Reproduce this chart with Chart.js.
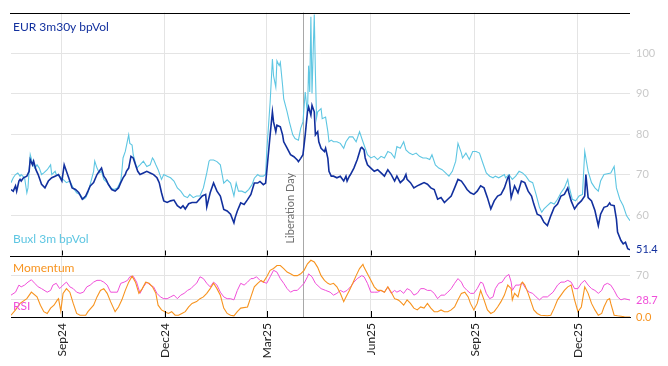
<!DOCTYPE html>
<html>
<head>
<meta charset="utf-8">
<script src="https://cdn.jsdelivr.net/npm/chart.js@4.4.1/dist/chart.umd.min.js"></script>
<style>
  html, body { margin: 0; padding: 0; background: #fff; }
  #wrap { width: 668px; height: 366px; }
</style>
</head>
<body>
<div id="wrap"><canvas id="chart" width="668" height="366"></canvas></div>
<script>
// x values are calendar days counted from 2024-07-18
const endDay = 547;
const monthDays = [45, 136, 226, 318, 410, 501];
const monthLabels = ['Sep24', 'Dec24', 'Mar25', 'Jun25', 'Sep25', 'Dec25'];
const liberationDay = 258; // 2025-04-02

// EUR 3m30y bpVol
const eurDay = [0,2,4,5,7,8,9,11,14,16, 17,19,20,22,24,27,30,33,36,39, 42,45,47,51,54,57,60,63,66,68,
  70,73,76,78,80,82,84,86,89,92, 95,97,99,101,102,104,106,108,110,112, 114,117,120,123,126,129,131,133,135,138,
  141,144,147,150,152,154,157,160,164,169, 172,173,176,179,182,185,188,191,194,197, 198,200,203,206,209,212,215,218,220,223,
  225,226,229,231,232,234,235,238,240,241, 244,247,250,253,254,256,258,260,262,263, 265,266,268,269,271,272,274,277,278,280,
  281,283,285,288,291,294,296,297,299,300, 303,306,309,310,312,313,315,318,321,324, 327,330,333,336,339,341,344,347,349,350,
  353,356,359,362,365,368,371,374,377,380, 383,386,389,392,395,398,401,403,406,409, 412,415,418,421,424,427,430,433,436,439,
  440,442,445,448,451,454,457,460,462,465, 468,471,474,477,480,483,486,489,492,493, 495,498,501,504,507,508,510,513,516,519,
  521,524,527,529,530,533,535,536,539,541, 543,545,547];
const eurVol = [66.3,65.9,67.2,65.9,68.4,68.8,68.4,69.2,69.6,70.8, 73.7,72.4,73.3,71.2,70.0,67.6,66.7,68.4,69.2,69.6, 70.0,68.4,72.4,69.2,66.7,66.3,65.5,63.9,64.7,65.9,
  67.2,68.0,70.0,70.8,71.6,69.6,68.8,67.6,66.3,65.9, 66.7,68.0,69.2,70.0,70.8,71.6,74.5,74.1,72.4,70.8, 70.0,70.4,70.8,70.4,70.0,69.2,68.0,65.5,63.5,63.1,
  63.5,63.7,62.3,61.7,62.3,61.5,62.8,63.1,63.1,64.7, 65.1,62.0,65.5,67.9,65.9,64.7,61.4,61.0,60.2,58.1, 59.3,61.0,63.0,62.6,63.8,65.1,67.9,67.9,68.3,67.5,
  67.9,70.8,79.8,85.5,83.0,80.6,82.2,81.8,79.8,78.1, 76.5,74.9,74.4,73.6,73.2,74.0,74.9,79.8,85.5,86.7, 84.7,87.1,85.5,79.8,80.6,78.1,76.5,75.7,76.5,74.0,
  70.8,69.6,69.6,69.2,69.6,68.4,69.6,68.4,69.6,70.0, 71.6,73.7,76.5,76.7,76.1,74.1,72.4,71.6,70.8,71.2, 70.4,69.6,71.2,70.0,68.4,69.6,68.0,68.8,70.0,68.8,
  68.0,66.7,67.2,67.6,68.0,67.6,66.7,66.3,63.9,64.3, 63.1,63.9,64.7,66.7,68.8,68.4,67.2,66.3,65.5,65.1, 65.9,67.2,66.7,64.3,61.5,63.5,64.7,65.1,66.7,69.2,
  69.6,64.3,67.2,65.5,68.4,68.0,65.9,64.7,62.7,60.2, 59.8,58.2,57.4,59.8,61.9,62.7,64.7,65.1,66.7,65.5, 63.5,61.5,62.7,63.5,64.7,70.0,64.3,63.5,61.1,57.4,
  60.2,61.9,62.2,63.0,62.5,62.3,59.0,55.8,53.7,52.9, 53.3,51.7,51.4];

// Buxl 3m bpVol
const buxlDay = [0,2,4,6,8,9,12,14,15,17, 19,21,23,25,27,29,32,35,36,39, 40,43,46,49,52,55,58,61,64,66,
  68,73,74,76,78,80,82,85,88,91, 94,97,98,99,101,104,105,107,108,110, 111,114,117,120,123,125,126,128,130,133,
  135,138,141,144,147,150,153,156,158,161, 164,167,170,173,175,176,179,182,185,188, 191,194,197,199,201,204,207,210,213,215,
  218,220,223,225,226,229,231,232,234,235, 237,238,240,241,244,246,249,251,254,256, 258,260,262,263,264,265,266,267,268,269,
  270,271,274,275,278,280,281,283,285,288, 291,294,296,299,302,305,308,310,312,315, 318,321,324,327,330,333,336,339,341,344,
  347,349,352,355,358,361,364,367,370,372, 375,378,381,384,387,390,393,395,398,399, 402,405,408,411,414,417,420,423,426,428,
  431,436,437,440,443,446,449,452,455,458, 461,464,467,469,471,474,477,480,483,486, 489,492,493,496,499,502,505,507,510,513,
  516,519,521,524,527,530,533,535,538,541, 544,547];
const buxlVol = [68.0,69.2,70.0,70.4,69.6,70.0,69.2,65.5,66.7,74.9, 72.8,71.6,72.4,71.6,70.0,70.4,71.2,72.4,70.0,70.8, 70.0,69.6,68.8,68.0,68.4,66.7,65.5,65.1,63.9,64.3,
  65.5,70.8,73.3,71.6,70.4,70.8,68.8,68.0,66.7,66.3, 66.7,68.4,70.8,74.1,75.7,79.8,77.7,77.3,74.9,72.8, 71.6,72.4,73.3,72.0,72.4,74.1,73.7,72.4,71.2,68.8,
  70.0,69.6,69.2,68.4,66.7,65.9,64.7,64.3,65.1,64.3, 64.7,64.7,66.7,70.4,73.3,73.6,73.6,73.2,72.4,67.9, 68.7,67.9,64.7,67.9,65.9,65.9,65.5,66.3,67.5,69.1,
  70.0,69.6,69.6,70.0,75.7,87.9,98.5,94.4,91.6,98.1, 96.9,97.7,92.0,88.7,85.5,83.0,79.8,78.9,78.5,81.4, 83.0,90.4,85.0,96.9,90.4,109.0,90.0,100.0,109.5,95.0,
  84.0,85.5,86.3,83.8,84.2,80.6,78.1,78.5,78.1,78.1, 77.7,76.5,78.1,79.3,79.3,78.1,80.6,78.9,77.3,74.9, 74.1,74.5,73.7,74.5,74.1,75.7,75.3,74.1,76.9,76.5,
  78.1,76.1,75.3,74.9,75.3,74.5,74.1,74.1,73.7,74.9, 72.4,71.6,71.2,70.4,69.6,70.8,73.3,77.7,75.3,74.1, 75.3,73.7,75.7,75.7,75.3,72.8,70.4,69.6,69.2,69.6,
  69.2,70.0,69.2,70.0,68.8,69.6,70.8,70.4,69.6,68.4, 68.0,65.1,61.9,60.7,61.5,62.3,63.1,62.7,63.9,65.5, 66.7,68.8,67.2,63.9,63.5,64.7,65.1,75.7,70.8,68.0,
  66.7,65.9,68.4,70.0,70.2,70.4,72.0,66.7,63.9,62.3, 59.8,58.6];

// Momentum
const momDay = [0,4,8,14,18,23,26,29,32,35, 38,41,42,44,46,49,52,55,58,61, 66,68,73,76,79,82,85,88,92,95,
  98,101,104,107,110,113,116,119,122,125, 128,130,133,136,139,142,145,148,151,154, 157,160,164,167,170,173,176,179,182,185,
  188,191,194,197,200,203,209,212,215,218, 221,223,226,229,232,235,238,241,244,247, 250,253,256,259,262,265,268,271,274,277,
  280,282,285,288,291,294,296,299,302,305, 308,311,312,315,318,321,324,327,330,333, 336,339,342,344,347,350,353,356,359,362,
  365,368,371,374,377,380,383,386,389,392, 395,398,401,404,406,409,412,415,418,421, 424,427,430,433,436,439,442,443,445,448,
  451,452,454,457,460,462,465,468,474,477, 480,483,486,489,492,495,498,501,504,507, 510,513,516,519,522,524,527,529,530,533,
  536,542,547];
const momVal = [3,12,23,31,42,34,20,9,6,15, 20,29,31,10,40,48,42,23,6,3, 3,9,20,34,45,48,40,26,9,17,
  29,45,59,69,59,40,48,59,57,51, 40,20,12,9,6,9,3,3,6,9, 17,23,26,31,34,40,48,57,48,37,
  15,6,3,2,9,15,17,34,51,57, 62,59,68,79,82,87,87,82,76,73, 70,70,73,79,90,96,93,84,70,62,
  57,55,57,51,40,26,34,45,57,70, 82,89,84,73,62,51,45,45,42,51, 42,31,29,26,20,29,23,15,12,17,
  15,23,15,9,9,12,9,9,12,17, 29,40,42,34,23,12,23,45,29,12, 6,9,17,26,37,54,48,29,40,34,
  57,59,54,40,23,12,6,3,2,3, 15,29,37,45,51,54,29,9,17,51, 40,23,12,3,6,17,29,31,23,3,
  2,0.5,0];

// RSI
const rsiDay = [0,4,7,9,12,15,18,21,24,27, 32,35,37,40,43,46,49,52,55,58, 61,64,67,70,73,76,79,82,85,88,
  91,94,97,100,103,105,108,111,114,117, 120,123,126,129,132,135,138,141,144,147, 150,153,156,159,162,164,167,170,173,176,
  179,182,185,188,191,194,197,200,203,206, 209,212,214,217,220,223,226,229,232,235, 238,241,244,247,250,253,256,259,262,263,
  266,269,274,278,282,285,288,291,294,297, 300,303,306,310,312,315,318,321,324,327, 330,333,336,339,341,344,347,350,353,356,
  359,362,365,368,371,374,377,380,383,386, 389,392,395,398,400,403,406,409,412,415, 417,420,423,426,428,431,434,437,440,442,
  443,446,449,452,455,458,461,464,467,470, 474,479,483,486,489,492,495,498,501,504, 507,510,513,516,519,522,524,527,530,533,
  536,539,542,547];
const rsiVal = [37,42,54,51,54,59,63,57,51,48, 42,45,54,57,48,54,59,51,48,42, 40,42,51,54,59,62,62,59,54,42,
  42,42,57,59,62,68,69,59,40,51, 59,54,51,40,34,31,31,34,37,31, 37,40,45,48,54,57,68,65,57,51,
  59,54,42,34,31,31,29,45,57,54, 59,65,65,68,62,59,57,68,79,76, 65,57,48,42,45,45,51,57,68,73,
  68,57,48,45,42,37,40,45,42,45, 51,59,65,70,68,57,42,42,42,45, 42,51,40,45,42,45,40,48,45,37,
  40,48,48,45,45,40,31,37,37,42, 48,57,65,59,51,45,40,40,48,59, 57,40,31,34,48,57,59,68,72,59,
  45,54,54,57,48,42,40,34,29,34, 34,42,54,59,59,62,59,48,48,57, 62,54,48,45,40,45,54,57,54,45,
  34,29,31,28.7];

const volTicks = [60, 70, 80, 90, 100];
const oscTicks = [30, 70];

const C_EUR = '#12309e';
const C_BUXL = '#5ec6e2';
const C_MOM = '#f7931e';
const C_RSI = '#f04fd9';
const C_GRID = '#e4e4e4';
const C_TICK = '#c9c9c9';

const last = arr => arr[arr.length - 1];
const pts = (xs, ys) => xs.map((d, i) => ({ x: d, y: ys[i] }));

const lastEur = last(eurVol);
const lastMom = last(momVal);
const lastRsi = last(rsiVal);

// panel frame, tick marks, event marker and in-plot legend
const decor = {
  id: 'decor',
  beforeDatasetsDraw(chart) {
    const { ctx, chartArea: a, scales: { x } } = chart;
    const px = Math.round(x.getPixelForValue(liberationDay)) + 0.5;
    ctx.save();
    ctx.strokeStyle = '#a8a8a8';
    ctx.lineWidth = 1;
    ctx.beginPath();
    ctx.moveTo(px, a.top);
    ctx.lineTo(px, a.bottom);
    ctx.stroke();
    ctx.restore();
  },
  afterDraw(chart) {
    const { ctx, chartArea: a, scales: { x, y, y2 } } = chart;
    ctx.save();
    ctx.strokeStyle = '#000';
    ctx.lineWidth = 1;
    ctx.beginPath();
    [a.top, y2.top].forEach(py => {
      const yy = Math.round(py) + 0.5;
      ctx.moveTo(a.left - 1, yy);
      ctx.lineTo(a.right, yy);
    });
    monthDays.forEach(d => {
      const px = Math.round(x.getPixelForValue(d)) + 0.5;
      ctx.moveTo(px, y2.top);
      ctx.lineTo(px, y2.top - 5);
      ctx.moveTo(px, a.bottom);
      ctx.lineTo(px, a.bottom - 6);
    });
    ctx.stroke();

    // Liberation Day label
    const lx = x.getPixelForValue(liberationDay);
    ctx.save();
    ctx.translate(lx - 13, y.bottom - 12);
    ctx.rotate(-Math.PI / 2);
    ctx.font = '11px Lato';
    ctx.fillStyle = '#6e6e6e';
    ctx.textAlign = 'left';
    ctx.textBaseline = 'middle';
    ctx.fillText('Liberation Day', 0, 0);
    ctx.restore();

    ctx.font = '12px Lato';
    ctx.textAlign = 'left';
    ctx.textBaseline = 'middle';
    ctx.fillStyle = C_EUR;
    ctx.fillText('EUR 3m30y bpVol', a.left + 2, a.top + 15);
    ctx.fillStyle = C_BUXL;
    ctx.fillText('Buxl 3m bpVol', a.left + 2, y.bottom - 16);
    ctx.fillStyle = C_MOM;
    ctx.fillText('Momentum', a.left + 2, y2.top + 13);
    ctx.fillStyle = C_RSI;
    ctx.fillText('RSI', a.left + 2, y2.bottom - 11);
    ctx.restore();
  }
};

new Chart(document.getElementById('chart').getContext('2d'), {
  type: 'line',
  data: {
    datasets: [
      { label: 'EUR 3m30y bpVol', data: pts(eurDay, eurVol), yAxisID: 'y', borderColor: C_EUR, borderWidth: 1.6 },
      { label: 'Buxl 3m bpVol', data: pts(buxlDay, buxlVol), yAxisID: 'y', borderColor: C_BUXL, borderWidth: 1.1 },
      { label: 'Momentum', data: pts(momDay, momVal), yAxisID: 'y2', borderColor: C_MOM, borderWidth: 1.1 },
      { label: 'RSI', data: pts(rsiDay, rsiVal), yAxisID: 'y2', borderColor: C_RSI, borderWidth: 1 }
    ]
  },
  options: {
    responsive: false,
    animation: false,
    devicePixelRatio: 1,
    layout: { padding: { left: 11, top: 10, right: 0, bottom: 0 } },
    elements: { point: { radius: 0 }, line: { tension: 0, fill: false } },
    plugins: { legend: { display: false }, tooltip: { enabled: false } },
    scales: {
      x: {
        type: 'linear',
        min: 0,
        max: endDay,
        afterBuildTicks: s => { s.ticks = monthDays.map(v => ({ value: v })); },
        afterFit: s => { s.height = 49; },
        grid: { color: C_GRID, drawTicks: false },
        border: { color: '#000', width: 1 },
        ticks: {
          autoSkip: false,
          minRotation: 90,
          maxRotation: 90,
          padding: 6,
          color: '#222',
          font: { family: 'Lato', size: 12 },
          callback: v => monthLabels[monthDays.indexOf(v)] || ''
        }
      },
      y: {
        position: 'right',
        stack: 'panels',
        stackWeight: 245,
        min: 50,
        max: 110,
        afterBuildTicks: s => { s.ticks = [lastEur, ...volTicks].map(v => ({ value: v })); },
        afterFit: s => { s.width = 38; },
        border: { display: false },
        grid: { drawTicks: false, color: c => c.tick && c.tick.value === lastEur ? 'rgba(0,0,0,0)' : C_GRID },
        ticks: {
          autoSkip: false,
          padding: 6,
          font: { family: 'Lato', size: 11 },
          color: c => c.tick.value === lastEur ? C_EUR : C_TICK,
          callback: v => v === lastEur ? v.toFixed(1) : String(v)
        }
      },
      y2: {
        position: 'right',
        stack: 'panels',
        stackWeight: 62,
        min: 0,
        max: 104,
        afterBuildTicks: s => { s.ticks = [lastMom, lastRsi, ...oscTicks].map(v => ({ value: v })); },
        afterFit: s => { s.width = 38; },
        border: { display: false },
        grid: { drawTicks: false, color: c => c.tick && oscTicks.includes(c.tick.value) ? C_GRID : 'rgba(0,0,0,0)' },
        ticks: {
          autoSkip: false,
          padding: 6,
          font: { family: 'Lato', size: 11 },
          color: c => c.tick.value === lastMom ? C_MOM : c.tick.value === lastRsi ? C_RSI : C_TICK,
          callback: v => v === lastMom || v === lastRsi ? v.toFixed(1) : (v === 70 ? '70' : '')
        }
      }
    }
  },
  plugins: [decor]
});
</script>
</body>
</html>
